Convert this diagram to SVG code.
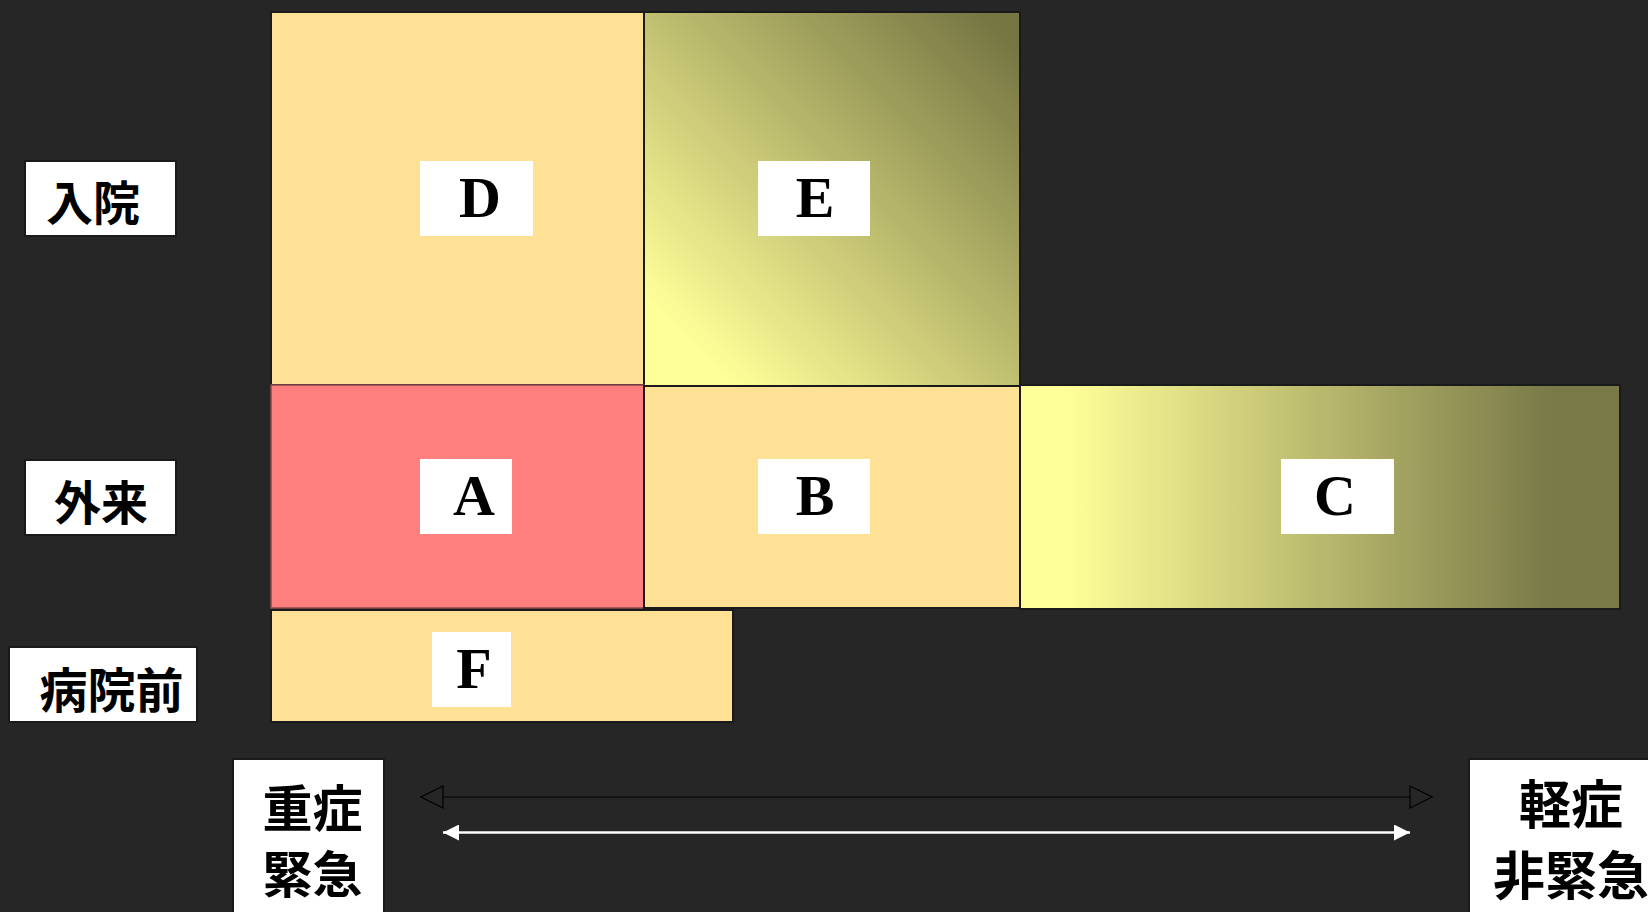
<svg xmlns="http://www.w3.org/2000/svg" width="1648" height="912" viewBox="0 0 1648 912">
<style>
.cell{stroke:#1a1a1a;stroke-width:2}
.orange{fill:#FEE194}
.red{fill:#FF7E7E}
.wbox{fill:#ffffff}
.lbox{fill:#ffffff;stroke:#1a1a1a;stroke-width:2}
.let{font-family:"Liberation Serif","Times New Roman",serif;font-weight:bold;font-size:58px;fill:#000;text-anchor:middle}
.jp{font-family:"Noto Sans CJK JP","Noto Sans CJK SC",sans-serif;font-weight:bold;fill:#000;text-anchor:middle}
</style>
<defs>
<linearGradient id="gE" x1="0" y1="1" x2="1" y2="0">
<stop offset="0.12" stop-color="#FFFF99"/>
<stop offset="0.95" stop-color="#767643"/>
</linearGradient>
<linearGradient id="gC" x1="0" y1="0" x2="1" y2="0">
<stop offset="0.08" stop-color="#FFFF99"/>
<stop offset="0.88" stop-color="#7A7A48"/>
</linearGradient>
<marker id="hollow" viewBox="-1 -1 24 24" refX="22" refY="11" markerWidth="24" markerHeight="24" markerUnits="userSpaceOnUse" orient="auto-start-reverse">
<path d="M0,0 L22,11 L0,22 Z" fill="#262626" stroke="#000" stroke-width="1.2"/>
</marker>
<marker id="solid" viewBox="0 0 16 16" refX="16" refY="8" markerWidth="16" markerHeight="16" markerUnits="userSpaceOnUse" orient="auto-start-reverse">
<path d="M0,0 L16,8 L0,16 Z" fill="#ffffff"/>
</marker>
</defs>
<rect x="0" y="0" width="1648" height="912" fill="#262626"/>

<g id="node-D">
<rect class="cell orange" x="271" y="12" width="373" height="373"/>
<rect class="wbox" x="420" y="161" width="113" height="75"/>
<text class="let" x="480" y="217">D</text>
</g>
<g id="node-E">
<rect class="cell" fill="url(#gE)" x="644" y="12" width="376" height="374"/>
<rect class="wbox" x="758" y="161" width="112" height="75"/>
<text class="let" x="815" y="217">E</text>
</g>
<g id="node-A">
<rect class="red" x="271" y="385" width="373" height="223" stroke="#8a4a4a" stroke-width="1.5"/>
<rect class="wbox" x="420" y="459" width="92" height="75"/>
<text class="let" x="474" y="515">A</text>
</g>
<g id="node-B">
<rect class="cell orange" x="644" y="386" width="376" height="222"/>
<rect class="wbox" x="758" y="459" width="112" height="75"/>
<text class="let" x="815" y="515">B</text>
</g>
<g id="node-C">
<rect class="cell" fill="url(#gC)" x="1020" y="385" width="600" height="224"/>
<rect class="wbox" x="1281" y="459" width="113" height="75"/>
<text class="let" x="1335" y="515">C</text>
</g>
<g id="node-F">
<rect class="cell orange" x="271" y="610" width="462" height="112"/>
<rect class="wbox" x="432" y="632" width="79" height="75"/>
<text class="let" x="474" y="688">F</text>
</g>

<g id="label-nyuin">
<rect class="lbox" x="25" y="161" width="151" height="75"/>
<text class="jp" x="93" y="220" font-size="47">入院</text>
</g>
<g id="label-gairai">
<rect class="lbox" x="25" y="460" width="151" height="75"/>
<text class="jp" x="101" y="520" font-size="47">外来</text>
</g>
<g id="label-byoinmae">
<rect class="lbox" x="9" y="647" width="188" height="75"/>
<text class="jp" x="111.5" y="708" font-size="48">病院前</text>
</g>
<g id="label-severe">
<rect class="lbox" x="233" y="759" width="151" height="180"/>
<text class="jp" x="312.5" y="827" font-size="50">重症</text>
<text class="jp" x="312.5" y="893" font-size="50">緊急</text>
</g>
<g id="label-mild">
<rect class="lbox" x="1469" y="759" width="210" height="180"/>
<text class="jp" x="1571" y="824" font-size="52">軽症</text>
<text class="jp" x="1571" y="895" font-size="52">非緊急</text>
</g>

<g id="connectors">
<line x1="421" y1="797" x2="1432" y2="797" stroke="#000" stroke-width="1.2" marker-start="url(#hollow)" marker-end="url(#hollow)"/>
<line x1="443" y1="832.5" x2="1410" y2="832.5" stroke="#fff" stroke-width="2.5" marker-start="url(#solid)" marker-end="url(#solid)"/>
</g>
</svg>
